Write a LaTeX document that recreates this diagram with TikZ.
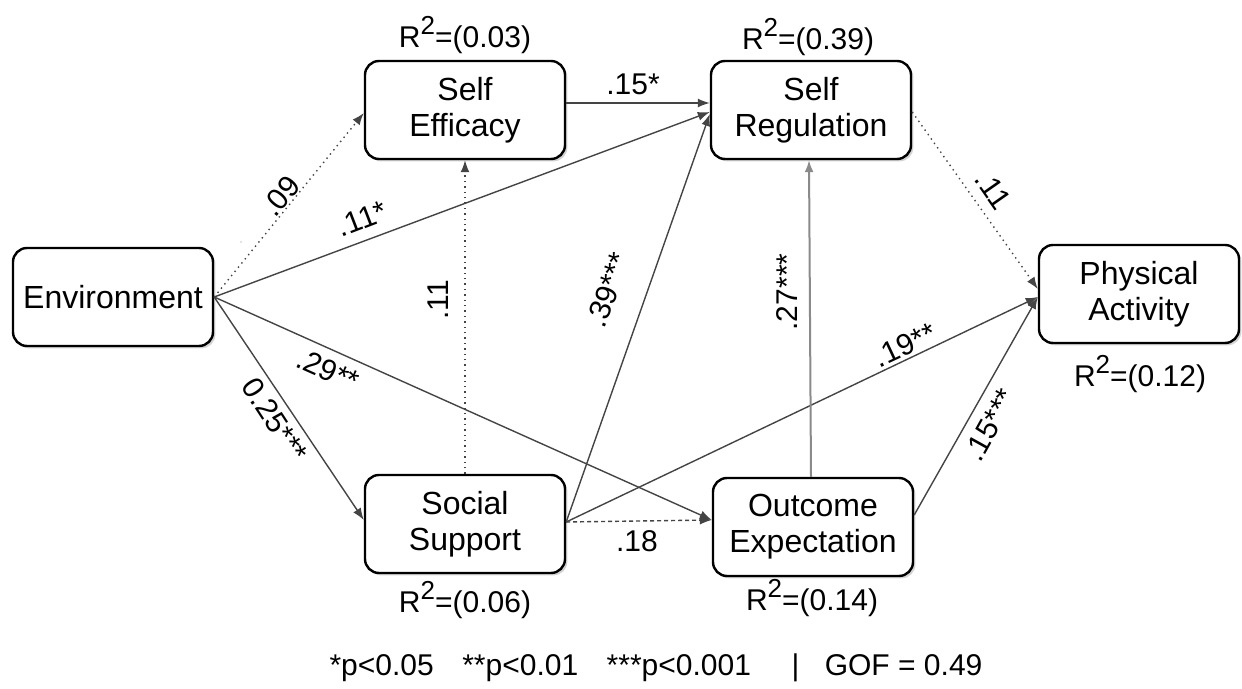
\documentclass[tikz,border=0pt]{standalone}
\usepackage{fontspec}
\setmainfont{Liberation Sans}
\usetikzlibrary{arrows.meta,shadows}
\definecolor{edgegray}{HTML}{444444}
\definecolor{lightedge}{HTML}{8A8A8A}
\begin{document}
\begin{tikzpicture}[x=0.5pt,y=-0.5pt,
  construct/.style={draw=black, line width=1.2pt, fill=white, rounded corners=7pt,
    minimum width=100pt, minimum height=49pt, align=center, inner sep=2pt,
    font=\fontsize{16}{18}\selectfont,
    drop shadow={shadow xshift=1.2pt, shadow yshift=-1.2pt, opacity=0.35, fill=gray}},
  path/.style={draw=edgegray, line width=0.7pt, -{Latex[length=6pt,width=4.5pt]}},
  weak/.style={path, dotted},
  coef/.style={font=\fontsize{15}{17}\selectfont, inner sep=0pt},
  rsq/.style={font=\fontsize{15}{17}\selectfont, inner sep=1pt}
]
\useasboundingbox (0,0) rectangle (1242,689);

% constructs
\node[construct] (env) at (113,297) {Environment};
\node[construct] (se)  at (465,110) {Self\\Efficacy};
\node[construct] (sr)  at (811,110) {Self\\Regulation};
\node[construct] (pa)  at (1139,294) {Physical\\Activity};
\node[construct] (ss)  at (465,524) {Social\\Support};
\node[construct] (oe)  at (813,527) {Outcome\\Expectation};

% explained variance
\newcommand{\rsqtext}[1]{R\raisebox{0.42em}{\fontsize{13}{13}\selectfont 2}=(#1)}
\node[rsq] (rse) at (465,35)  {\rsqtext{0.03}};
\node[rsq] (rsr) at (808,37)  {\rsqtext{0.39}};
\node[rsq] (rpa) at (1140,374) {\rsqtext{0.12}};
\node[rsq] (rss) at (465,600) {\rsqtext{0.06}};
\node[rsq] (roe) at (812,598) {\rsqtext{0.14}};

% paths
\draw[weak] (env.east) -- ([yshift=-1.5pt]se.west);
\draw[path] (env.east) -- ([yshift=-1pt]sr.west);
\draw[path] (env.east) -- ([yshift=3.5pt]oe.west);
\draw[path] (env.east) -- ([yshift=2pt]ss.west);
\draw[path] ([yshift=3.5pt]se.east) -- ([yshift=3.5pt]sr.west);
\draw[path] ([yshift=1pt]ss.east) -- ([yshift=-2pt]sr.west);
\draw[path] ([yshift=1pt]ss.east) -- ([yshift=-1.5pt]pa.west);
\draw[path, dashed, dash pattern=on 2pt off 1.5pt] ([yshift=1pt]ss.east) -- ([yshift=3.5pt]oe.west);
\draw[weak] (ss.north) -- (se.south);
\draw[path, draw=lightedge, line width=1pt] ([xshift=-1pt]oe.north) -- ([xshift=-1pt]sr.south);
\draw[path] ([yshift=6pt]oe.east) -- ([yshift=-1.5pt]pa.west);
\draw[weak] ([yshift=-1pt]sr.east) -- ([yshift=2.5pt]pa.west);

% path coefficients
\node[coef, rotate=50]  (c1) at (281,196) {.09};
\node[coef, rotate=21]  (c2) at (362,219) {.11*};
\node[coef, rotate=-24] (c3) at (328,370) {.29**};
\node[coef, rotate=-57] (c4) at (275,420) {0.25***};
\node[coef, rotate=90]  (c5) at (438,300) {.11};
\node[coef, rotate=70]  (c6) at (608,290) {.39***};
\node[coef]             (c7) at (633,84)  {.15*};
\node[coef, rotate=90]  (c8) at (787,292) {.27***};
\node[coef, rotate=-55] (c9) at (993,190) {.11};
\node[coef, rotate=25]  (c10) at (905,345) {.19**};
\node[coef, rotate=61]  (c11) at (990,425) {.15***};
\node[coef]             (c12) at (637,541) {.18};
\fill[lightedge] (241,242) circle (0.7);

% significance legend
\node[font=\fontsize{15}{17}\selectfont] (legend) at (656,668)
  {*p<0.05\hspace{0.95em}**p<0.01\hspace{0.95em}***p<0.001\hspace{1.35em}|\hspace{0.85em}GOF = 0.49};
\end{tikzpicture}
\end{document}
